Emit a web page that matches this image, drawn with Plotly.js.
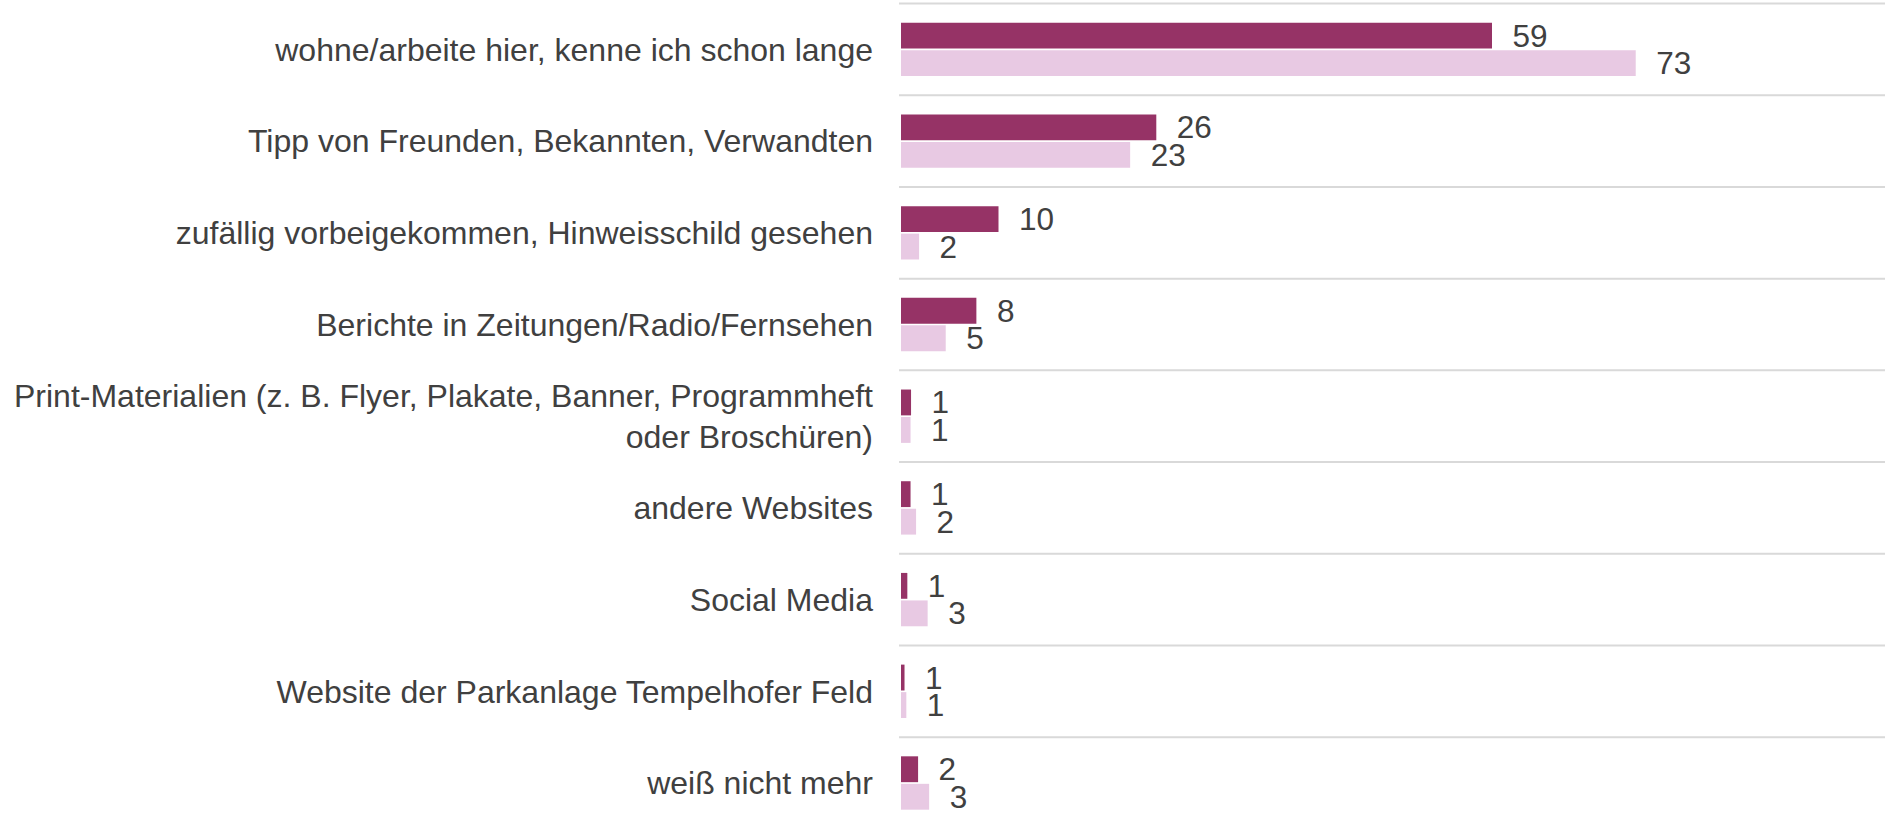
<!DOCTYPE html>
<html>
<head>
<meta charset="utf-8">
<script src="https://cdn.plot.ly/plotly-3.0.1.min.js"></script>
<style>
  html, body { margin: 0; padding: 0; background: #ffffff; }
  #chart { width: 1885px; height: 826px; }
</style>
</head>
<body>
<div id="chart"></div>
<script>
// Categories, top to bottom
const categories = [
  "wohne/arbeite hier, kenne ich schon lange",
  "Tipp von Freunden, Bekannten, Verwandten",
  "zufällig vorbeigekommen, Hinweisschild gesehen",
  "Berichte in Zeitungen/Radio/Fernsehen",
  "Print-Materialien (z. B. Flyer, Plakate, Banner, Programmheft<br>oder Broschüren)",
  "andere Websites",
  "Social Media",
  "Website der Parkanlage Tempelhofer Feld",
  "weiß nicht mehr"
];

// Series 1 (dark) – estimated bar lengths and printed labels
const seriesDarkValues = [58.8, 25.4, 9.7, 7.5, 1.0, 0.95, 0.63, 0.35, 1.7];
const seriesDarkLabels = ["59", "26", "10", "8", "1", "1", "1", "1", "2"];

// Series 2 (light) – estimated bar lengths and printed labels
const seriesLightValues = [73.1, 22.8, 1.8, 4.45, 0.95, 1.5, 2.65, 0.53, 2.8];
const seriesLightLabels = ["73", "23", "2", "5", "1", "2", "3", "1", "3"];

const FONT = "'Liberation Sans', Arial, sans-serif";
const TEXT_COLOR = "#404040";

const traceDark = {
  type: "bar",
  orientation: "h",
  y: categories,
  x: seriesDarkValues,
  text: seriesDarkLabels,
  texttemplate: "\u00a0\u00a0%{text}",
  textposition: "outside",
  constraintext: "none",
  cliponaxis: false,
  textfont: { family: FONT, size: 31.5, color: TEXT_COLOR },
  marker: { color: "#963366" },
  hoverinfo: "none",
  showlegend: false
};

const traceLight = {
  type: "bar",
  orientation: "h",
  y: categories,
  x: seriesLightValues,
  text: seriesLightLabels,
  texttemplate: "\u00a0\u00a0%{text}",
  textposition: "outside",
  constraintext: "none",
  cliponaxis: false,
  textfont: { family: FONT, size: 31.5, color: TEXT_COLOR },
  marker: { color: "#e8c9e3" },
  hoverinfo: "none",
  showlegend: false
};

// separator lines between categories
const shapes = [];
for (let i = 0; i <= categories.length; i++) {
  shapes.push({
    type: "line",
    xref: "paper", yref: "y",
    x0: -0.002, x1: 1,
    y0: i - 0.5, y1: i - 0.5,
    line: { color: "#d9d9d9", width: 2 },
    layer: "below"
  });
}

const layout = {
  width: 1885,
  height: 826,
  margin: { l: 901, r: 0, t: 0, b: 0, pad: 0 },
  paper_bgcolor: "#ffffff",
  plot_bgcolor: "#ffffff",
  barmode: "group",
  bargap: 0.4,
  bargroupgap: 0.06,
  font: { family: FONT, size: 32, color: TEXT_COLOR },
  xaxis: {
    range: [0, 97.9],
    visible: false,
    showgrid: false,
    zeroline: false,
    fixedrange: true
  },
  yaxis: {
    type: "category",
    range: [8.469, -0.539],
    autorange: false,
    showgrid: false,
    zeroline: false,
    showline: false,
    ticks: "",
    dtick: 1,
    ticklabelstandoff: 27,
    tickfont: { family: FONT, size: 32, color: TEXT_COLOR },
    fixedrange: true
  },
  shapes: shapes
};

Plotly.newPlot("chart", [traceDark, traceLight], layout, { displayModeBar: false, staticPlot: true });
</script>
</body>
</html>
